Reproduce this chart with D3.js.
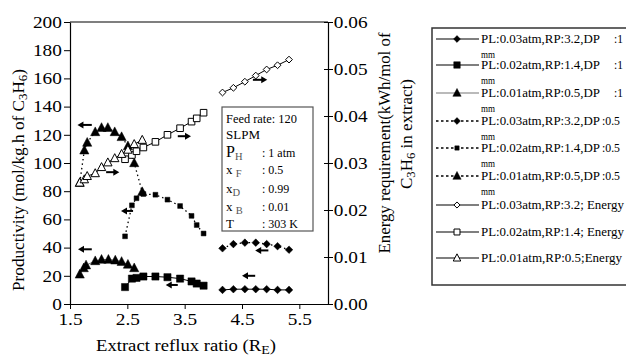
<!DOCTYPE html>
<html>
<head>
<meta charset="utf-8">
<script src="https://cdn.jsdelivr.net/npm/d3@7"></script>
<style>
  body { margin: 0; background: #fff; }
  svg, svg text { font-family: "Liberation Serif", "Times New Roman", "DejaVu Serif", serif; }
</style>
</head>
<body>
<div id="chart"></div>
<script>
// ---- data ----
const diamondX = [4.16, 4.35, 4.55, 4.74, 4.93, 5.12, 5.32];
const prodDiamond1mm = [10, 10.5, 10.5, 10.5, 10.5, 10, 10];
const prodDiamond05mm = [39.5, 42.5, 43.5, 43.5, 42.5, 41, 38.5];
const energyDiamond = [0.045, 0.046, 0.0473, 0.0486, 0.0499, 0.0508, 0.052];

const squareX = [2.46, 2.58, 2.66, 2.78, 2.99, 3.2, 3.42, 3.62, 3.71, 3.83];
const prodSquare1mm = [12, 18, 18.5, 19.5, 19.5, 19, 18, 16, 14.5, 13];
const prodSquare05mm = [48, 70, 75, 78, 77.5, 74, 69.5, 62.5, 56, 50];
const energySquare = [0.0308, 0.0317, 0.0325, 0.0333, 0.0345, 0.036, 0.0374, 0.0388, 0.0395, 0.0407];

const triX1mm = [1.67, 1.74, 1.78, 1.94, 2.05, 2.17, 2.29, 2.40, 2.51, 2.62];
const prodTri1mm = [21, 25.5, 27.5, 30.5, 31.5, 31.5, 31, 30, 28, 25.5];
const triX = [1.67, 1.75, 1.80, 1.94, 2.05, 2.16, 2.28, 2.40, 2.51, 2.62, 2.76];
const prodTri05mm = [86, 109, 114.5, 122, 125, 125, 122, 118.5, 112, 100, 79.5];
const energyTri = [0.0258, 0.0265, 0.0272, 0.0278, 0.0291, 0.0301, 0.031, 0.0319, 0.0328, 0.034, 0.0349];

const xTicks = [1.5, 2.5, 3.5, 4.5, 5.5];
const yTicks = [0, 20, 40, 60, 80, 100, 120, 140, 160, 180, 200];
const eTicks = [0, 0.01, 0.02, 0.03, 0.04, 0.05, 0.06];

// arrows: [from x, to x, productivity-level y]
const arrows = [
  [1.88, 1.63, 127], [2.13, 2.36, 93.5], [3.38, 3.61, 119],
  [1.88, 1.64, 38.8], [2.6, 2.39, 66], [3.38, 3.17, 13.5],
  [4.73, 4.5, 20], [4.96, 4.73, 38], [4.69, 4.94, 159]
];

const legendLabels = [
  ["PL:0.03atm,RP:3.2,DP", ":1", "mm"],
  ["PL:0.02atm,RP:1.4,DP", ":1", "mm"],
  ["PL:0.01atm,RP:0.5,DP", ":1", "mm"],
  ["PL:0.03atm,RP:3.2,DP", ":0.5", "mm"],
  ["PL:0.02atm,RP:1.4,DP", ":0.5", "mm"],
  ["PL:0.01atm,RP:0.5,DP", ":0.5", "mm"],
  ["PL:0.03atm,RP:3.2; Energy", "", ""],
  ["PL:0.02atm,RP:1.4; Energy", "", ""],
  ["PL:0.01atm,RP:0.5;Energy", "", ""]
];

// ---- series definitions ----
const zip = (xs, ys) => xs.map((x, i) => [x, ys[i]]);
const series = [
  {pts: zip(diamondX, prodDiamond1mm), axis: "L", shape: "diamond", size: 3.8, fill: "#000", dash: null, color: "#000"},
  {pts: zip(squareX, prodSquare1mm), axis: "L", shape: "square", size: 3.6, fill: "#000", dash: null, color: "#000"},
  {pts: zip(triX1mm, prodTri1mm), axis: "L", shape: "triangle", size: 4.6, fill: "#000", dash: null, color: "#777"},
  {pts: zip(diamondX, prodDiamond05mm), axis: "L", shape: "diamond", size: 3.8, fill: "#000", dash: "1.5,3", color: "#000"},
  {pts: zip(squareX, prodSquare05mm), axis: "L", shape: "square", size: 2.4, fill: "#000", dash: "1.5,3", color: "#000"},
  {pts: zip(triX, prodTri05mm), axis: "L", shape: "triangle", size: 4.6, fill: "#000", dash: "1.5,3", color: "#000"},
  {pts: zip(diamondX, energyDiamond), axis: "R", shape: "diamond", size: 3.4, fill: "#fff", dash: null, color: "#000"},
  {pts: zip(squareX, energySquare), axis: "R", shape: "square", size: 3.3, fill: "#fff", dash: null, color: "#000"},
  {pts: zip(triX, energyTri), axis: "R", shape: "triangle", size: 4.2, fill: "#fff", dash: null, color: "#000"}
];

function markerPath(shape, s) {
  if (shape === "diamond") return `M0,${-s}L${s},0L0,${s}L${-s},0Z`;
  if (shape === "square") return `M${-s},${-s}h${2 * s}v${2 * s}h${-2 * s}Z`;
  return `M0,${-s * 1.1}L${s},${s * 0.8}L${-s},${s * 0.8}Z`;
}

const SERIF = "'Liberation Serif', 'Times New Roman', 'DejaVu Serif', serif";

// ---- layout ----
const width = 626, height = 359;
const plot = {left: 70, right: 328, top: 22, bottom: 304};

const svg = d3.select("#chart").append("svg")
  .attr("width", width).attr("height", height)
  .attr("viewBox", `0 0 ${width} ${height}`)
  .attr("font-family", SERIF);

const x = d3.scaleLinear().domain([1.5, 6]).range([plot.left, plot.right]);
const yL = d3.scaleLinear().domain([0, 200]).range([plot.bottom, plot.top]);
const yR = d3.scaleLinear().domain([0, 0.06]).range([plot.bottom, plot.top]);

// frame top line
svg.append("line")
  .attr("x1", plot.left).attr("x2", plot.right)
  .attr("y1", plot.top).attr("y2", plot.top)
  .attr("stroke", "#000").attr("stroke-width", 1.2);

// axes
const xAxis = svg.append("g")
  .attr("transform", `translate(0,${plot.bottom})`)
  .call(d3.axisBottom(x).tickValues(xTicks).tickFormat(d3.format(".1f")).tickSizeInner(5).tickSizeOuter(0));
const yAxis = svg.append("g")
  .attr("transform", `translate(${plot.left},0)`)
  .call(d3.axisLeft(yL).tickValues(yTicks).tickFormat(d3.format("d")).tickSizeInner(6).tickSizeOuter(0));
const rAxis = svg.append("g")
  .attr("transform", `translate(${plot.right},0)`)
  .call(d3.axisRight(yR).tickValues(eTicks).tickFormat(d3.format(".2f")).tickSizeInner(5).tickSizeOuter(0));
rAxis.selectAll(".tick line").attr("x1", -4);

[xAxis, yAxis, rAxis].forEach(g => {
  g.attr("font-family", SERIF).attr("font-size", 16.5);
  g.select(".domain").attr("stroke", "#000").attr("stroke-width", 1.2);
  g.selectAll(".tick line").attr("stroke", "#000").attr("stroke-width", 1);
  g.selectAll(".tick text").attr("fill", "#000").attr("transform", "scale(1.17,1)");
});
xAxis.selectAll(".tick text").attr("y", 9);
yAxis.selectAll(".tick text").attr("x", -7);
rAxis.selectAll(".tick text").attr("x", 5);

// axis titles
const title = (sel, parts) => {
  parts.forEach(([t, sub]) => {
    const ts = sel.append("tspan").text(t);
    if (sub) ts.attr("baseline-shift", "-25%").attr("font-size", "0.75em");
  });
  return sel;
};
title(svg.append("text")
  .attr("x", 186).attr("y", 351)
  .attr("text-anchor", "middle").attr("font-size", 17.5),
  [["Extract reflux ratio (R", false], ["E", true], [")", false]])
  .attr("textLength", 180).attr("lengthAdjust", "spacingAndGlyphs");

title(svg.append("text")
  .attr("transform", `translate(24,180) rotate(-90)`)
  .attr("text-anchor", "middle").attr("font-size", 17.5),
  [["Productivity (mol/kg.h of C", false], ["3", true], ["H", false], ["6", true], [")", false]])
  .attr("textLength", 222).attr("lengthAdjust", "spacingAndGlyphs");

svg.append("text")
  .attr("transform", `translate(390,143) rotate(-90)`)
  .attr("text-anchor", "middle").attr("font-size", 17)
  .attr("textLength", 221).attr("lengthAdjust", "spacingAndGlyphs")
  .text("Energy requirement(kWh/mol of");
title(svg.append("text")
  .attr("transform", `translate(412,134) rotate(-90)`)
  .attr("text-anchor", "middle").attr("font-size", 17),
  [["C", false], ["3", true], ["H", false], ["6", true], [" in extract)", false]]);

// series lines + markers
const plotG = svg.append("g");
series.forEach(s => {
  const y = s.axis === "L" ? yL : yR;
  plotG.append("path")
    .datum(s.pts)
    .attr("fill", "none")
    .attr("stroke", s.color)
    .attr("stroke-width", s.dash ? 1.3 : 1)
    .attr("stroke-dasharray", s.dash)
    .attr("d", d3.line().x(d => x(d[0])).y(d => y(d[1])));
  plotG.selectAll(null)
    .data(s.pts)
    .join("path")
    .attr("transform", d => `translate(${x(d[0])},${y(d[1])})`)
    .attr("d", markerPath(s.shape, s.size))
    .attr("fill", s.fill)
    .attr("stroke", "#000")
    .attr("stroke-width", s.fill === "#fff" ? 1 : 0.5);
});

// direction arrows
arrows.forEach(([x0, x1, v]) => {
  const xa = x(x0), xb = x(x1), yy = yL(v);
  const dir = Math.sign(xb - xa);
  svg.append("line")
    .attr("x1", xa).attr("x2", xb - dir * 5)
    .attr("y1", yy).attr("y2", yy)
    .attr("stroke", "#000").attr("stroke-width", 2);
  svg.append("path")
    .attr("d", `M${xb},${yy}L${xb - dir * 6},${yy - 3.5}L${xb - dir * 6},${yy + 3.5}Z`)
    .attr("fill", "#000");
});

// operating conditions box
const box = svg.append("g");
box.append("rect")
  .attr("x", 222).attr("y", 107).attr("width", 91).attr("height", 124)
  .attr("fill", "#fff").attr("stroke", "#555").attr("stroke-width", 1.2);
const bt = (yy, parts, val) => {
  const t = box.append("text").attr("x", 226).attr("y", yy).attr("font-size", 13);
  parts.forEach(([s, sub, big]) => {
    const ts = t.append("tspan").text(s);
    if (sub) ts.attr("baseline-shift", "-30%").attr("font-size", 10.5).attr("fill", "#555");
    if (big) ts.attr("font-size", 16);
  });
  if (val) box.append("text").attr("x", 262).attr("y", yy).attr("font-size", 12).text(val);
  return t;
};
bt(123, [["Feed rate: 120", false]]).attr("textLength", 71).attr("lengthAdjust", "spacingAndGlyphs");
bt(139, [["SLPM", false]]);
bt(157, [["P", false, true], ["H", true]], ": 1 atm");
bt(174, [["x ", false], ["F", true]], ": 0.5");
bt(193, [["x", false], ["D", true]], ": 0.99");
bt(211, [["x ", false], ["B", true]], ": 0.01");
bt(228, [["T", false]], ": 303 K");

// legend
const leg = svg.append("g");
leg.append("rect")
  .attr("x", 432).attr("y", 28).attr("width", 210).attr("height", 257)
  .attr("fill", "#fff").attr("stroke", "#333").attr("stroke-width", 1.5);
const legY = [39, 65, 93, 121, 148, 176, 205, 232, 258];
const legText = (xx, yy, str, len) => {
  const t = leg.append("text").attr("x", xx).attr("y", yy).attr("font-size", 11.5).text(str);
  if (len) t.attr("textLength", len).attr("lengthAdjust", "spacingAndGlyphs");
  return t;
};
series.forEach((s, i) => {
  const yy = legY[i];
  leg.append("line")
    .attr("x1", 436).attr("x2", 479).attr("y1", yy).attr("y2", yy)
    .attr("stroke", s.color).attr("stroke-width", s.dash ? 1.3 : 1.2)
    .attr("stroke-dasharray", s.dash ? "2.5,2.5" : null);
  leg.append("path")
    .attr("transform", `translate(457,${yy})`)
    .attr("d", markerPath(s.shape, s.size * 0.9))
    .attr("fill", s.fill).attr("stroke", "#000")
    .attr("stroke-width", s.fill === "#fff" ? 1 : 0.5);
  const [a, b, c] = legendLabels[i];
  legText(481, yy + 4, a, b ? 119 : (i === 8 ? 141 : 143));
  if (b) legText(b === ":1" ? 614 : 602, yy + 4, b, b === ":1" ? null : 18);
  if (c) legText(481, yy + 19, c, 14).attr("font-size", 10.5);
});
</script>
</body>
</html>
